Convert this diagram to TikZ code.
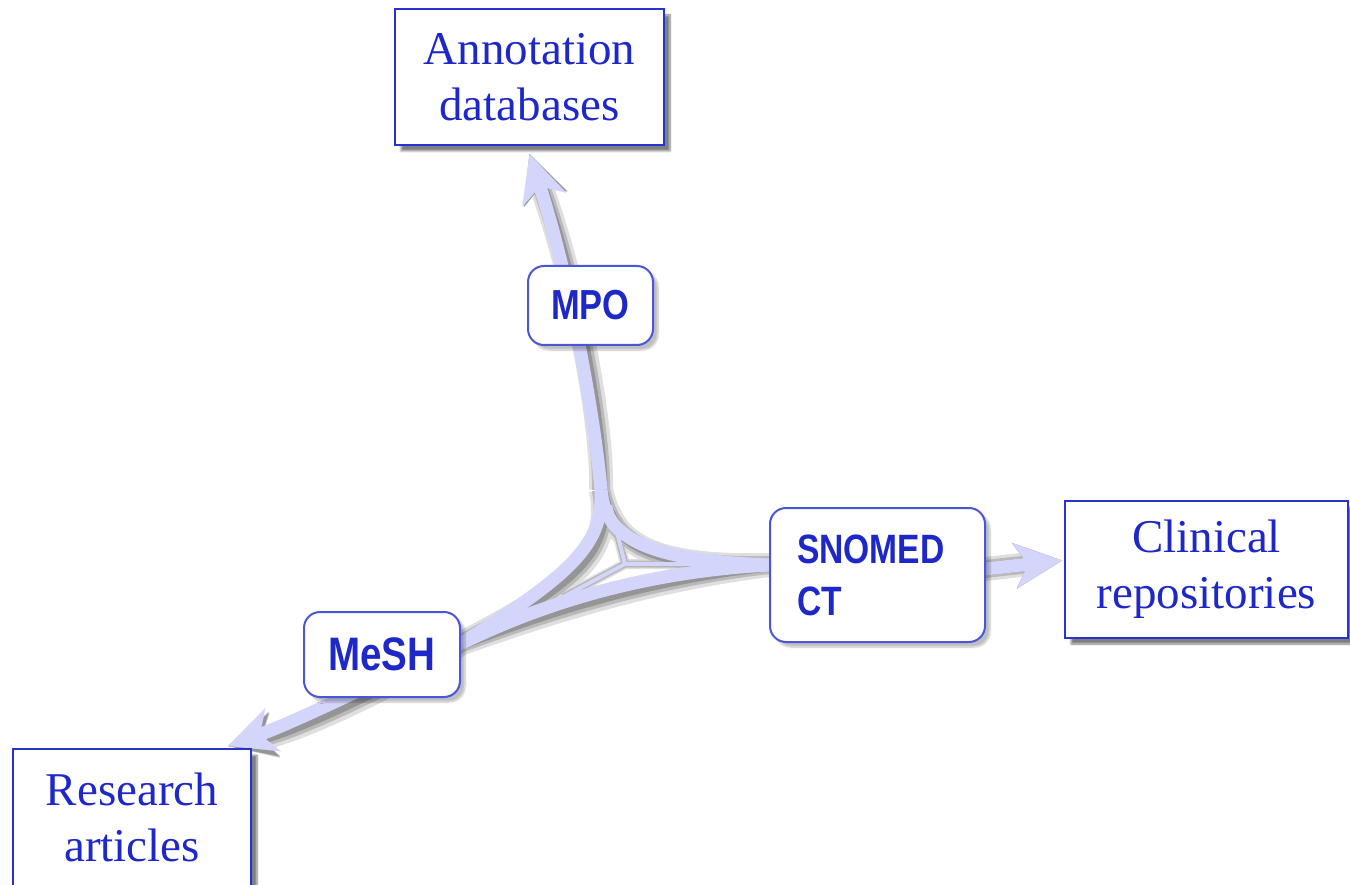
\documentclass[tikz,border=0pt]{standalone}
\usepackage{fontspec}
\setmainfont{Liberation Serif}
\newfontfamily\lblfont[FakeStretch=0.82]{Liberation Sans}
\usetikzlibrary{arrows.meta,shadows.blur,calc}
\definecolor{arrowc}{RGB}{212,213,250}
\definecolor{txtblue}{RGB}{30,40,200}
\definecolor{boxblue}{RGB}{40,50,205}
\definecolor{rboxblue}{RGB}{75,85,215}
\pgfdeclarelayer{bg}
\pgfsetlayers{bg,main}
\tikzset{
  target/.style={draw=boxblue, line width=2pt, fill=white, text=txtblue, align=center,
    font=\fontsize{47}{56}\selectfont, inner sep=0pt,
    blur shadow={shadow xshift=6pt, shadow yshift=-6pt, shadow blur steps=8, shadow opacity=50}},
  onto/.style={draw=rboxblue, line width=2pt, fill=white, rounded corners=16pt, text=txtblue,
    inner sep=0pt,
    blur shadow={shadow xshift=5pt, shadow yshift=-5pt, shadow blur steps=6, shadow opacity=25}},
  ontofont/.style={font=\lblfont\bfseries\fontsize{#1}{52}\selectfont},
  flow/.style={line width=13pt},
  tipped/.style={-{Stealth[length=48pt,width=46pt,inset=14pt,line width=0.1pt]}},
  spoke/.style={line width=4pt},
}
\newcommand\myflows[2]{%
  \draw[flow, tipped, #1] (jt) .. controls (595,420) and (570,280) .. (tipa);
  \draw[flow, #1] (jt) .. controls (605,530) and (630,560) .. (js);
  \draw[flow, #1] (jt) .. controls (604,545) and (570,575) .. (jm);
  \draw[flow, #1] (jm) .. controls (540,605) and (640,572) .. (js);
  \draw[flow, tipped, #1] (jm) .. controls (400,670) and (300,720) .. (tipr);
  \draw[flow, tipped, #1] (sstart) -- (tipc);
  \draw[spoke, #1, #2] (ctr) -- (spu);
  \draw[spoke, #1, #2] (ctr) -- (spl);
  \draw[spoke, #1, #2] (ctr) -- (spr);
}
\begin{document}
\begin{tikzpicture}[x=1pt, y=-1pt]
\useasboundingbox (0,0) rectangle (1350,885);
% target boxes
\node[target, minimum width=269pt, minimum height=136pt] (ann) at (529.5,77) {Annotation\\databases};
\node[target, minimum width=283pt, minimum height=137pt] (clin) at (1206.5,569.5) {Clinical\\repositories};
\node[target, minimum width=238pt, minimum height=137pt] (res) at (132,817.5) {Research\\articles};
% ontology boxes
\node[onto, ontofont=42, minimum width=125pt, minimum height=79pt] (mpo) at (590.5,305.5) {MPO};
\node[onto, ontofont=47, minimum width=156pt, minimum height=85pt] (mesh) at (382,654.5) {MeSH};
\node[onto, ontofont=41, align=left, text width=161pt, minimum width=215pt, minimum height=134pt] (snomed) at (877.5,575) {SNOMED\\CT};
% connector points
\coordinate (jt) at (601,490);
\coordinate (jm) at ($(mesh.east)+(0,-11)$);
\coordinate (js) at ($(snomed.west)+(0,-10)$);
\coordinate (ctr) at (625,564);
\coordinate (spu) at (610,505);
\coordinate (spl) at (563,597);
\coordinate (spr) at (717,564);
\coordinate (tipa) at ($(ann.south)+(0,8)$);
\coordinate (tipr) at ($(res.north east)+(-24,-2)$);
\coordinate (tipc) at ($(clin.west)+(-2,-9)$);
\coordinate (sstart) at ($(snomed.east)+(-10,-5)$);
\begin{pgfonlayer}{bg}
  \begin{scope}[transparency group, opacity=0.25, shift={(8,8)}]
    \myflows{draw=black!50, line width=24pt}{line width=10pt}
  \end{scope}
  \begin{scope}[transparency group, opacity=0.3, shift={(7,7)}]
    \myflows{draw=black!60, line width=18pt}{line width=7pt}
  \end{scope}
  \begin{scope}[transparency group, opacity=0.3, shift={(6,6)}]
    \myflows{draw=black!75}{}
  \end{scope}
  \myflows{draw=arrowc}{}
\end{pgfonlayer}
\end{tikzpicture}
\end{document}
